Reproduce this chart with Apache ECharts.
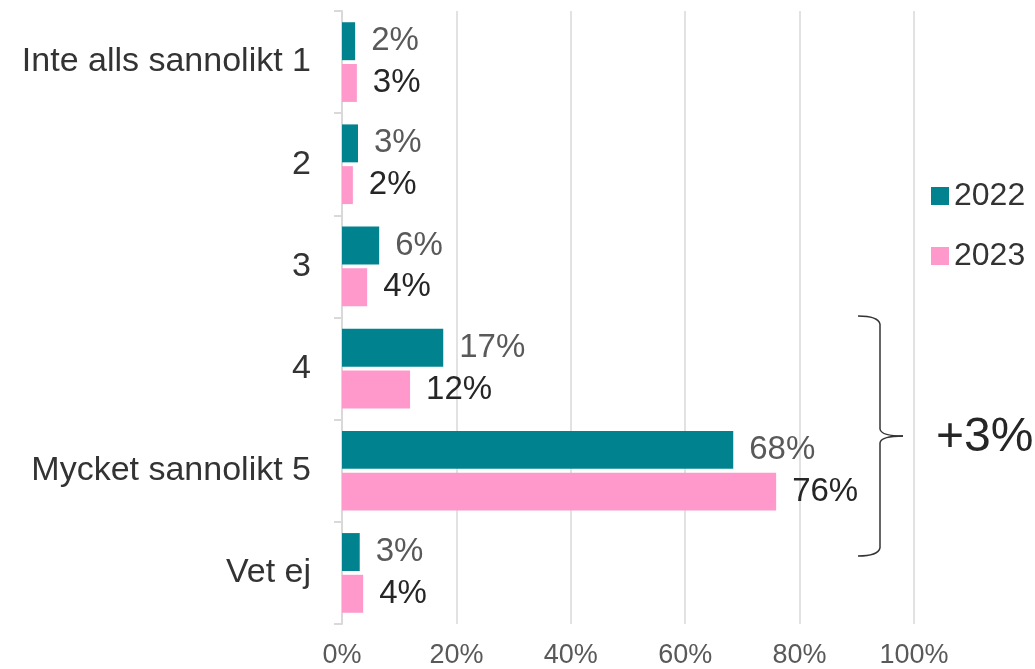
<!DOCTYPE html>
<html>
<head>
<meta charset="utf-8">
<script src="https://cdn.jsdelivr.net/npm/echarts@6/dist/echarts.min.js"></script>
<style>
  html, body { margin: 0; padding: 0; background: #fff; }
  #main { width: 1035px; height: 669px; }
</style>
</head>
<body>
<div id="main"></div>
<script>
// categories top to bottom
var categories = ['Inte alls sannolikt 1', '2', '3', '4', 'Mycket sannolikt 5', 'Vet ej'];
// percent values
var values2022 = [2.3, 2.8, 6.5, 17.7, 68.4, 3.1];
var values2023 = [2.6, 1.9, 4.4, 11.9, 75.9, 3.7];
// the printed labels (rounded in the source, not always like the bars)
var labels2022 = [2, 3, 6, 17, 68, 3];
var labels2023 = [3, 2, 4, 12, 76, 4];
var xTicks = [0, 20, 40, 60, 80, 100];
var noteText = '+3%';

var font = 'Arial, "Liberation Sans", sans-serif';
var teal = '#00838F';
var pink = '#FF99CC';

var chart = echarts.init(document.getElementById('main'), null, { renderer: 'canvas' });

function labelFrom(arr) {
  return function (p) {
    return arr[p.dataIndex] + '%';
  };
}

// curly brace on the right, drawn as plain strokes
var braceStyle = { stroke: '#333', lineWidth: 1.5, fill: null };
var brace = [
  { type: 'bezierCurve', shape: { x1: 858, y1: 316, x2: 880, y2: 324, cpx1: 878, cpy1: 316 }, style: braceStyle },
  { type: 'line', shape: { x1: 880, y1: 324, x2: 880, y2: 429 }, style: braceStyle },
  { type: 'bezierCurve', shape: { x1: 880, y1: 429, x2: 903, y2: 436, cpx1: 881, cpy1: 436 }, style: braceStyle },
  { type: 'bezierCurve', shape: { x1: 903, y1: 436, x2: 880, y2: 443, cpx1: 881, cpy1: 436 }, style: braceStyle },
  { type: 'line', shape: { x1: 880, y1: 443, x2: 880, y2: 548 }, style: braceStyle },
  { type: 'bezierCurve', shape: { x1: 880, y1: 548, x2: 858, y2: 556, cpx1: 878, cpy1: 556 }, style: braceStyle }
];

var option = {
  backgroundColor: '#fff',
  animation: false,
  textStyle: { fontFamily: font },
  grid: {
    left: 342,
    right: 121,
    top: 11,
    bottom: 44,
    containLabel: false
  },
  legend: {
    orient: 'vertical',
    left: 931,
    top: 180,
    padding: 0,
    itemWidth: 18,
    itemHeight: 18,
    itemGap: 28,
    icon: 'rect',
    textStyle: { fontSize: 32, color: '#333', fontFamily: font },
    data: ['2022', '2023']
  },
  xAxis: {
    type: 'value',
    min: xTicks[0],
    max: xTicks[xTicks.length - 1],
    interval: 20,
    axisLine: { show: false },
    axisTick: { show: false },
    axisLabel: {
      formatter: '{value}%',
      fontSize: 27,
      color: '#595959',
      margin: 18,
      fontFamily: font
    },
    splitLine: { lineStyle: { color: '#e2e2e2', width: 2 } }
  },
  yAxis: {
    type: 'category',
    inverse: true,
    data: categories,
    axisLine: { show: true, lineStyle: { color: '#d9d9d9', width: 2 } },
    axisTick: { show: true, length: 8, lineStyle: { color: '#d9d9d9', width: 2 } },
    axisLabel: {
      fontSize: 34,
      color: '#333',
      margin: 31,
      fontFamily: font,
      padding: [3, 0, 0, 0]
    }
  },
  series: [
    {
      name: '2022',
      type: 'bar',
      data: values2022,
      barGap: '10%',
      barCategoryGap: '22%',
      itemStyle: { color: teal },
      label: {
        show: true,
        position: 'right',
        distance: 16,
        formatter: labelFrom(labels2022),
        fontSize: 33,
        color: '#595959',
        fontFamily: font
      }
    },
    {
      name: '2023',
      type: 'bar',
      data: values2023,
      barGap: '10%',
      barCategoryGap: '22%',
      itemStyle: { color: pink },
      label: {
        show: true,
        position: 'right',
        distance: 16,
        formatter: labelFrom(labels2023),
        fontSize: 33,
        color: '#262626',
        fontFamily: font
      }
    }
  ],
  graphic: brace.concat([
    {
      type: 'text',
      left: 936,
      top: 414,
      style: {
        text: noteText,
        fontSize: 48,
        fill: '#262626',
        fontFamily: font
      }
    }
  ])
};

chart.setOption(option);
</script>
</body>
</html>
